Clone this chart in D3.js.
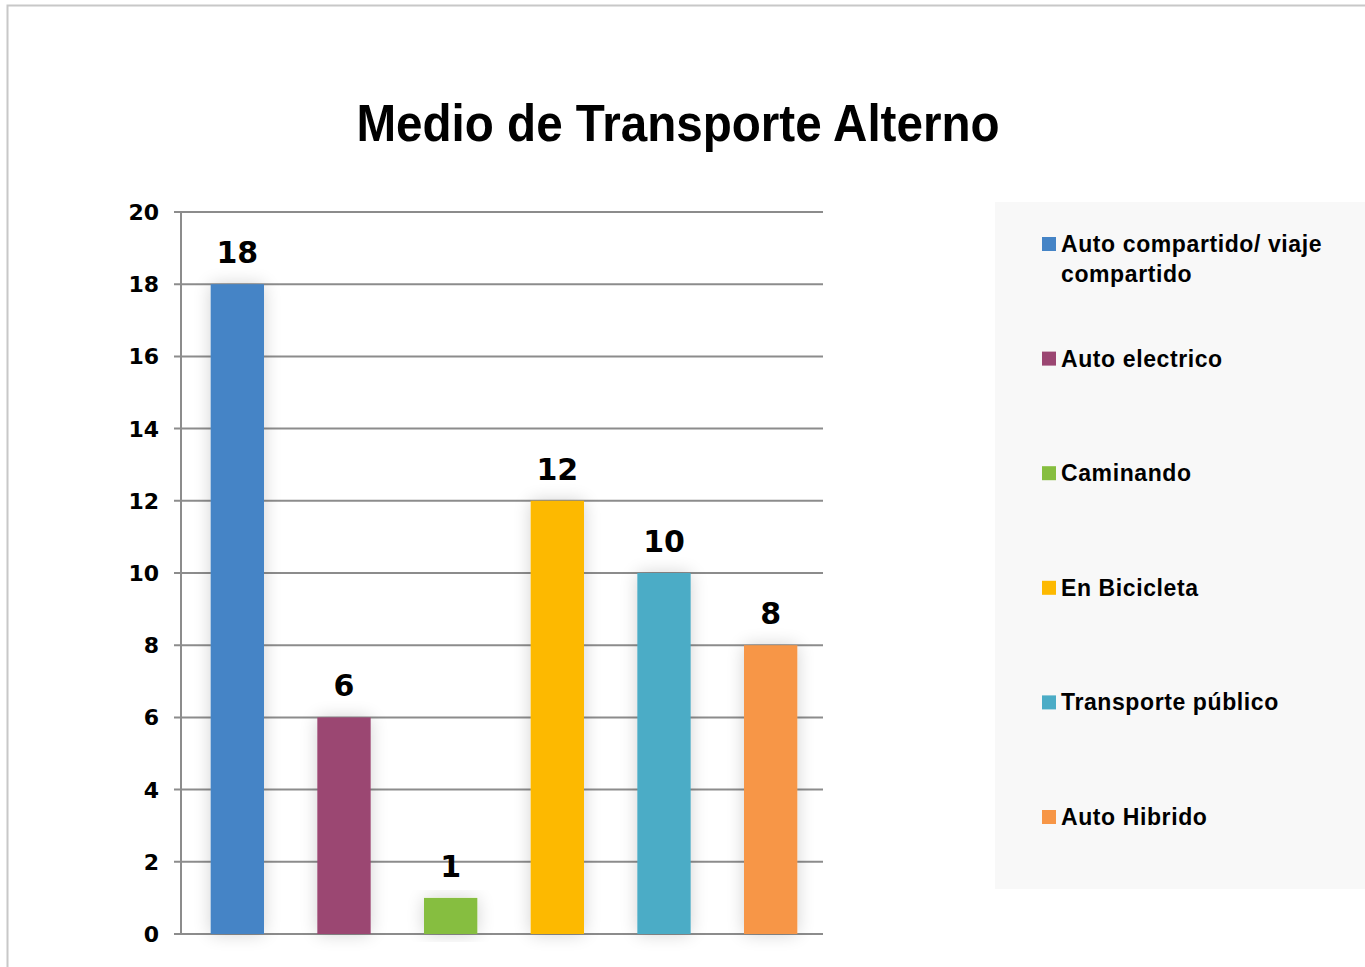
<!DOCTYPE html>
<html>
<head>
<meta charset="utf-8">
<script src="https://cdn.jsdelivr.net/npm/d3@7"></script>
<style>
  body { margin: 0; background: #fff; }
  text { font-family: "Liberation Sans", Arial, sans-serif; font-weight: bold; fill: #000; }
  .num { font-family: "DejaVu Sans", sans-serif; }
</style>
</head>
<body>
<div id="chart"></div>
<script>
const categories = ["Auto compartido/ viaje compartido", "Auto electrico", "Caminando", "En Bicicleta", "Transporte público", "Auto Hibrido"];
const values = [18, 6, 1, 12, 10, 8];
const colors = ["#4584C6", "#9B4672", "#86BE3F", "#FDB900", "#4BACC6", "#F79646"];
const yTicks = [0, 2, 4, 6, 8, 10, 12, 14, 16, 18, 20];
const legendLines = [["Auto compartido/ viaje", "compartido"], ["Auto electrico"], ["Caminando"], ["En Bicicleta"], ["Transporte público"], ["Auto Hibrido"]];

const W = 1365, H = 967;
const svg = d3.select("#chart").append("svg")
    .attr("width", W).attr("height", H);

// drop shadow for bars
const defs = svg.append("defs");
const f = defs.append("filter").attr("id", "shadow")
    .attr("x", "-60%").attr("y", "-20%").attr("width", "220%").attr("height", "140%");
f.append("feGaussianBlur").attr("in", "SourceAlpha").attr("stdDeviation", 9).attr("result", "blur");
f.append("feComponentTransfer").attr("in", "blur").attr("result", "soft")
    .append("feFuncA").attr("type", "linear").attr("slope", 0.18);
const merge = f.append("feMerge");
merge.append("feMergeNode").attr("in", "soft");
merge.append("feMergeNode").attr("in", "SourceGraphic");

// outer frame
svg.append("rect")
    .attr("x", 7.5).attr("y", 5.5).attr("width", W).attr("height", H)
    .attr("fill", "none").attr("stroke", "#c8c8c8").attr("stroke-width", 2);

// title
svg.append("text")
    .attr("x", 678).attr("y", 141)
    .attr("text-anchor", "middle")
    .attr("textLength", 643).attr("lengthAdjust", "spacingAndGlyphs")
    .style("font-size", "52px")
    .text("Medio de Transporte Alterno");

const x = d3.scaleBand().domain(categories).range([184, 824]).paddingInner(0.5).paddingOuter(0.25);
const y = d3.scaleLinear().domain([0, 20]).range([934, 212]);

// gridlines
svg.append("g").selectAll("line").data(yTicks).join("line")
    .attr("x1", 174).attr("x2", 823)
    .attr("y1", d => y(d)).attr("y2", d => y(d))
    .attr("stroke", "#8c8c8c").attr("stroke-width", 2);

// y axis line
svg.append("line")
    .attr("x1", 181).attr("x2", 181).attr("y1", 212).attr("y2", 934)
    .attr("stroke", "#8c8c8c").attr("stroke-width", 2);

// tick labels
svg.append("g").selectAll("text").data(yTicks).join("text")
    .attr("class", "num")
    .attr("x", 159).attr("y", d => y(d) + 8)
    .attr("text-anchor", "end")
    .style("font-size", "22px")
    .text(d => d);

// bars
svg.append("g").selectAll("rect").data(values).join("rect")
    .attr("x", (d, i) => x(categories[i]))
    .attr("y", d => y(d))
    .attr("width", x.bandwidth())
    .attr("height", d => y(0) - y(d))
    .attr("fill", (d, i) => colors[i])
    .attr("filter", "url(#shadow)");

// value labels
svg.append("g").selectAll("text").data(values).join("text")
    .attr("class", "num")
    .attr("x", (d, i) => x(categories[i]) + x.bandwidth() / 2)
    .attr("y", d => y(d) - 21)
    .attr("text-anchor", "middle")
    .style("font-size", "30px")
    .text(d => d);

// legend
svg.append("rect")
    .attr("x", 995).attr("y", 202).attr("width", 380).attr("height", 687)
    .attr("fill", "#f8f8f8");

const legend = svg.append("g").selectAll("g").data(legendLines).join("g")
    .attr("transform", (d, i) => `translate(1042, ${244 + i * 114.6})`);
legend.append("rect")
    .attr("x", 0).attr("y", -7).attr("width", 14).attr("height", 14)
    .attr("fill", (d, i) => colors[i]);
legend.each(function (lines) {
    const g = d3.select(this);
    lines.forEach((t, j) => {
        g.append("text")
            .attr("x", 19).attr("y", 8 + j * 30)
            .style("font-size", "23px")
            .style("letter-spacing", "0.6px")
            .text(t);
    });
});
</script>
</body>
</html>
